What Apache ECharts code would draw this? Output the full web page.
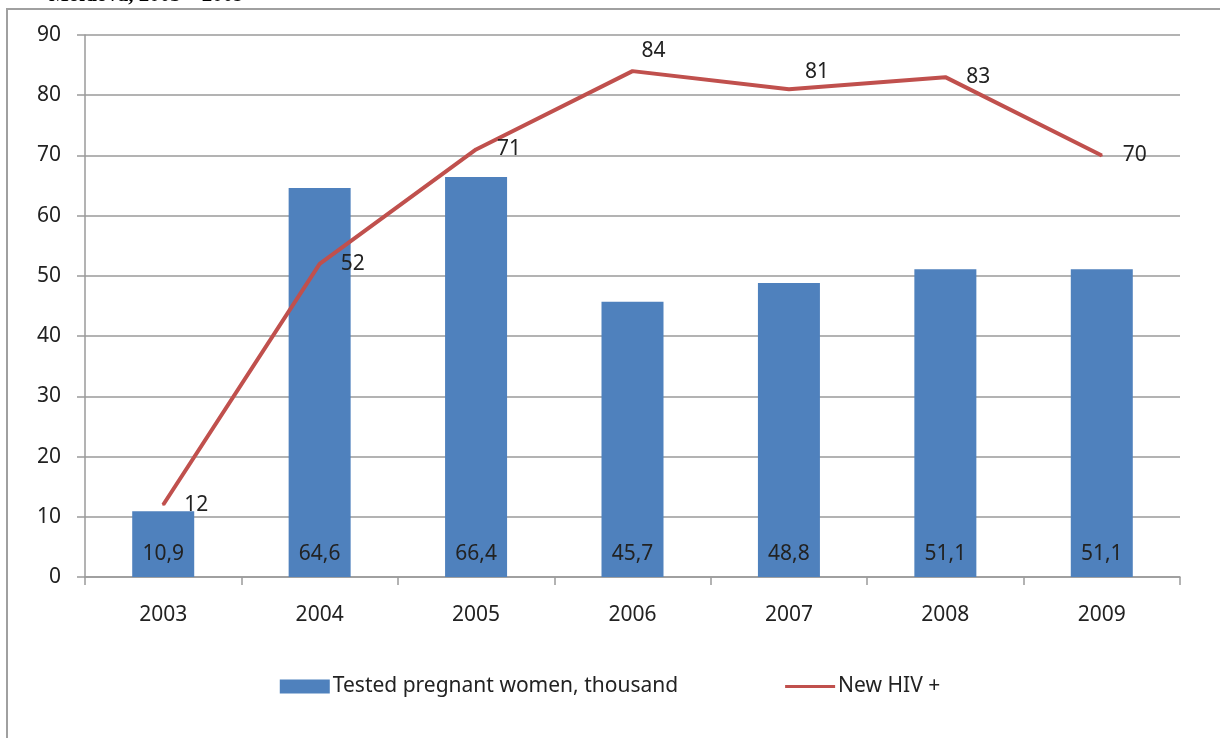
<!DOCTYPE html>
<html>
<head>
    <meta charset="utf-8" />
    <title>Tested pregnant women and new HIV+, Moldova 2003 - 2009</title>
    <script src="https://cdn.jsdelivr.net/npm/echarts@6/dist/echarts.min.js"></script>
    <style>
        html, body { margin: 0; padding: 0; background: #fff; }
        #chart { width: 1220px; height: 738px; }
    </style>
</head>
<body>
    <div id="chart"></div>
    <script type="text/javascript">
        var years = ['2003', '2004', '2005', '2006', '2007', '2008', '2009'];
        var testedWomen = [10.9, 64.6, 66.4, 45.7, 48.8, 51.1, 51.1];
        var newHiv = [12, 52, 71, 84, 81, 83, 70];
        var barName = 'Tested pregnant women, thousand';
        var lineName = 'New HIV +';

        var font = '"Noto Sans", "Open Sans", sans-serif';
        var textColor = '#222';

        // a couple of line labels sit above the point instead of to the right
        var lineData = newHiv.map(function (v, i) {
            if (i === 3) return { value: v, label: { position: 'top', offset: [21, 11] } };
            if (i === 4) return { value: v, label: { position: 'top', offset: [28, 14] } };
            return v;
        });

        var chart = echarts.init(document.getElementById('chart'));
        chart.setOption({
            animation: false,
            graphic: [
                {
                    type: 'rect',
                    shape: { x: 7, y: 9, width: 1400, height: 900 },
                    style: { fill: 'none', stroke: '#a0a0a0', lineWidth: 2 },
                    z: -1
                },
                {
                    type: 'text',
                    left: 49,
                    top: -15,
                    style: {
                        text: 'Moldova, 2003 – 2009',
                        font: 'bold 21px "Liberation Serif", "DejaVu Serif", serif',
                        fill: '#000'
                    }
                }
            ],
            grid: { left: 85, right: 40, top: 35, bottom: 161 },
            legend: {
                bottom: 36,
                left: 'center',
                itemWidth: 50,
                itemHeight: 14,
                itemGap: 107,
                textStyle: { fontFamily: font, fontSize: 21, color: textColor, padding: [0, 0, 0, -2] },
                data: [
                    { name: barName, icon: 'rect' },
                    { name: lineName, icon: 'path://M0,6 L50,6 L50,9 L0,9 Z' }
                ]
            },
            xAxis: {
                type: 'category',
                data: years,
                axisLine: { lineStyle: { color: '#9a9a9a', width: 1.5 } },
                axisTick: { show: true, length: 8, lineStyle: { color: '#9a9a9a', width: 1.5 } },
                axisLabel: { fontFamily: font, fontSize: 21, color: textColor, margin: 28 }
            },
            yAxis: {
                type: 'value',
                min: 0,
                max: 90,
                interval: 10,
                axisLine: { show: true, lineStyle: { color: '#9a9a9a', width: 1.5 } },
                axisTick: { show: true, length: 8, lineStyle: { color: '#9a9a9a', width: 1.5 } },
                splitLine: { lineStyle: { color: '#9a9a9a', width: 1.5 } },
                axisLabel: { fontFamily: font, fontSize: 21, color: textColor, margin: 24 }
            },
            series: [
                {
                    name: barName,
                    type: 'bar',
                    data: testedWomen,
                    barWidth: 62,
                    itemStyle: { color: '#4f81bd' },
                    label: {
                        show: true,
                        position: 'insideBottom',
                        distance: 12,
                        fontFamily: font,
                        fontSize: 21,
                        color: textColor,
                        formatter: function (p) { return String(p.value).replace('.', ','); }
                    }
                },
                {
                    name: lineName,
                    type: 'line',
                    data: lineData,
                    symbol: 'circle',
                    symbolSize: 2,
                    showSymbol: true,
                    itemStyle: { color: '#c0504d' },
                    lineStyle: { color: '#c0504d', width: 4 },
                    label: {
                        show: true,
                        position: 'right',
                        distance: 20,
                        fontFamily: font,
                        fontSize: 21,
                        color: textColor
                    }
                }
            ]
        });
    </script>
</body>
</html>
